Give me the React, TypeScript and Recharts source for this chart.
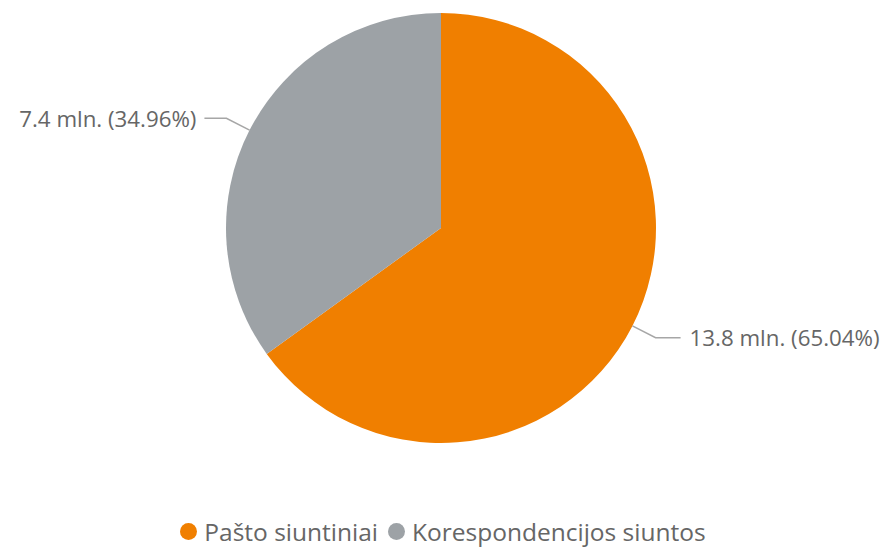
import React from "react";
import { PieChart, Pie, Cell, Legend } from "recharts";

const categories = ["Pašto siuntiniai", "Korespondencijos siuntos"];
const valuesMln = [13.77, 7.4];
const labelValues = ["13.8", "7.4"];
const colors = ["#F07F00", "#9DA2A6"];

const data = categories.map((name, i) => ({ name, value: valuesMln[i], label: labelValues[i] }));
const total = valuesMln.reduce((a, b) => a + b, 0);

const RAD = Math.PI / 180;
const FONT = "'Open Sans', 'Noto Sans', sans-serif";

const renderLabel = (props: any) => {
  const { cx, cy, midAngle, outerRadius, index } = props;
  const cos = Math.cos(-midAngle * RAD);
  const sin = Math.sin(-midAngle * RAD);
  const sx = cx + outerRadius * cos;
  const sy = cy + outerRadius * sin;
  const mx = cx + (outerRadius + 26) * cos;
  const my = cy + (outerRadius + 26) * sin;
  const right = cos >= 0;
  const ex = mx + (right ? 25 : -22);
  const ey = my;
  const pct = ((valuesMln[index] / total) * 100).toFixed(2);
  return (
    <g>
      <polyline points={`${sx},${sy} ${mx},${my} ${ex},${ey}`} fill="none" stroke="#A6A6A6" strokeWidth={1.5} />
      <text
        x={ex + (right ? 9 : -8)}
        y={ey}
        textAnchor={right ? "start" : "end"}
        dominantBaseline="central"
        fill="#666666"
        fontSize={22.3}
        fontFamily={FONT}
      >
        {`${labelValues[index]} mln. (${pct}%)`}
      </text>
    </g>
  );
};

const renderLegend = () => (
  <div style={{ display: "flex", justifyContent: "center", alignItems: "center", fontFamily: FONT, fontSize: 24.5, color: "#666666" }}>
    {categories.map((c, i) => (
      <div key={c} style={{ display: "flex", alignItems: "center", marginRight: i === 0 ? 10 : 0 }}>
        <span style={{ width: 17, height: 17, borderRadius: 9, background: colors[i], display: "inline-block", marginRight: 7 }} />
        <span>{c}</span>
      </div>
    ))}
  </div>
);

export default function App() {
  return (
    <div style={{ position: "absolute", left: 0, top: 0, width: 886, height: 548, background: "#fff" }}>
      <PieChart width={886} height={548} margin={{ top: 0, right: 0, bottom: 0, left: 0 }}>
        <Pie
          data={data}
          dataKey="value"
          nameKey="name"
          cx={441}
          cy={228}
          outerRadius={215}
          startAngle={90}
          endAngle={-270}
          stroke="none"
          label={renderLabel}
          labelLine={false}
          isAnimationActive={false}
        >
          {data.map((d, i) => (
            <Cell key={d.name} fill={colors[i]} />
          ))}
        </Pie>
        <Legend verticalAlign="bottom" content={renderLegend} wrapperStyle={{ bottom: 0, left: 0, width: 886 }} />
      </PieChart>
    </div>
  );
}
